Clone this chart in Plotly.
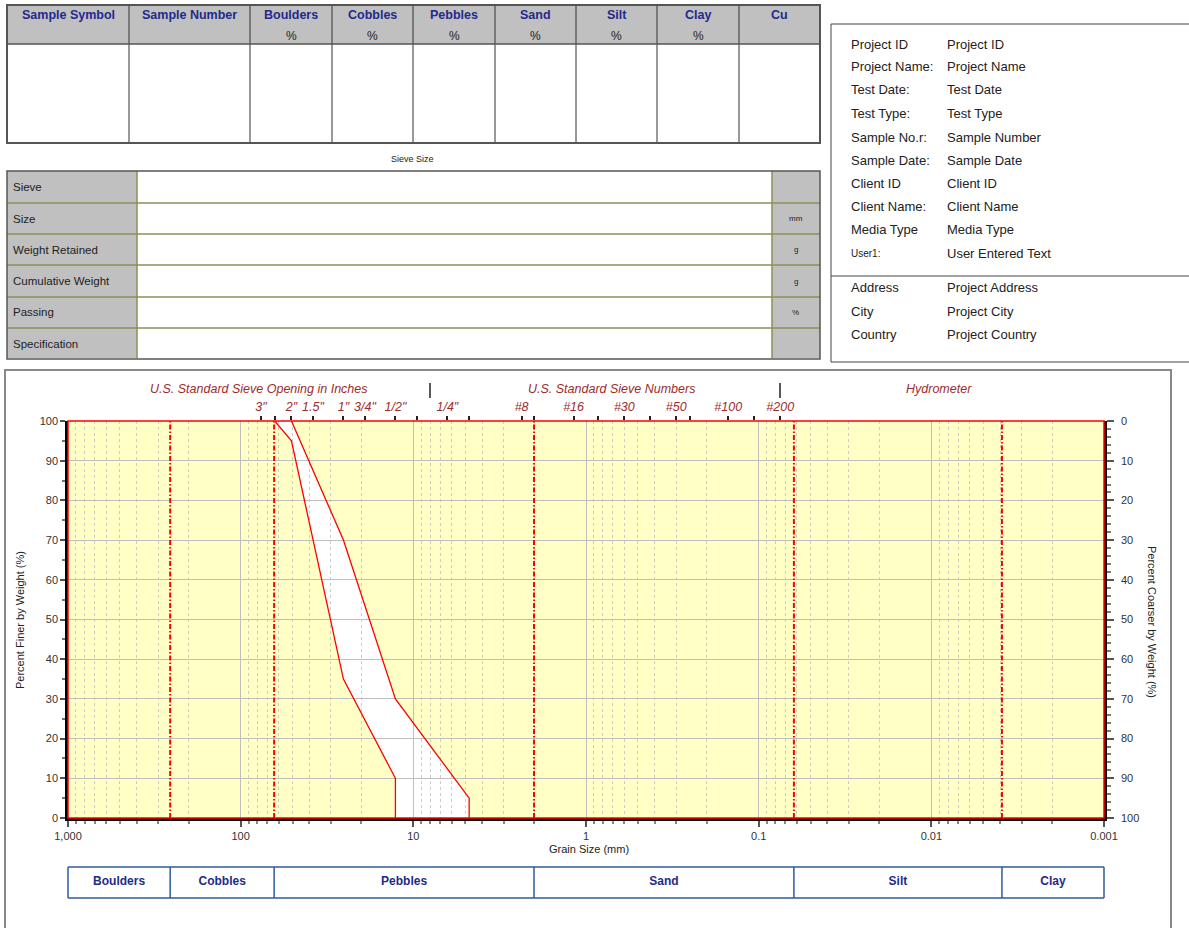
import plotly.graph_objects as go

W, H = 1189, 928
FONT = "Liberation Sans, Arial, sans-serif"
NAVY = "#1F2A8C"
DRED = "#9B2D2D"

# ---------------- data ----------------
sieve_sizes_mm = [76.2, 63.5, 50.8, 38.1, 25.4, 19.05, 12.7, 9.525, 6.35, 4.75,
                  2.36, 2.0, 1.18, 0.85, 0.6, 0.425, 0.3, 0.25, 0.15, 0.106, 0.075]
sieve_labels = ['3"', '', '2"', '1.5"', '1"', '3/4"', '1/2"', '', '1/4"', '',
                '#8', '', '#16', '', '#30', '', '#50', '', '#100', '', '#200']

lower_size = [63.5, 50.8, 25.4, 12.7, 12.7]
lower_pass = [100, 95, 35, 10, 0]
upper_size = [50.8, 25.4, 12.7, 4.75, 4.75]
upper_pass = [100, 70, 30, 5, 0]

class_names = ["Boulders", "Cobbles", "Pebbles", "Sand", "Silt", "Clay"]
class_bounds = [1000, 256, 64, 2, 0.0625, 0.0039, 0.001]

x_tickvals = [1000, 100, 10, 1, 0.1, 0.01, 0.001]
x_ticktext = ["1,000", "100", "10", "1", "0.1", "0.01", "0.001"]
minor_mult = [2, 3, 4, 5, 6, 7, 8, 9]
decades = [0.001, 0.01, 0.1, 1, 10, 100]

y_ticks = [0, 10, 20, 30, 40, 50, 60, 70, 80, 90, 100]

table_cols = ["Sample Symbol", "Sample Number", "Boulders", "Cobbles", "Pebbles",
              "Sand", "Silt", "Clay", "Cu"]
table_units = ["", "", "%", "%", "%", "%", "%", "%", ""]
sieve_rows = ["Sieve", "Size", "Weight Retained", "Cumulative Weight", "Passing", "Specification"]
sieve_units = ["", "mm", "g", "g", "%", ""]
info_labels = ["Project ID", "Project Name:", "Test Date:", "Test Type:", "Sample No.r:",
               "Sample Date:", "Client ID", "Client Name:", "Media Type", "User1:",
               "Address", "City", "Country"]
info_values = ["Project ID", "Project Name", "Test Date", "Test Type", "Sample Number",
               "Sample Date", "Client ID", "Client Name", "Media Type", "User Entered Text",
               "Project Address", "Project City", "Project Country"]

# ---------------- helpers ----------------
def fx(x):
    return x / W

def fy(y):
    return 1 - y / H

shapes = []
annots = []

def line(x0, y0, x1, y1, color="#444", width=1, layer="above"):
    shapes.append(dict(type="line", xref="paper", yref="paper",
                       x0=fx(x0), y0=fy(y0), x1=fx(x1), y1=fy(y1),
                       line=dict(color=color, width=width), layer=layer))

def rect(x0, y0, x1, y1, fill=None, color="#444", width=1, layer="above"):
    d = dict(type="rect", xref="paper", yref="paper",
             x0=fx(x0), y0=fy(y0), x1=fx(x1), y1=fy(y1), layer=layer,
             line=dict(color=color, width=width))
    if fill:
        d["fillcolor"] = fill
    shapes.append(d)

def text(x, y, s, size=12, color="#222", xanchor="center", angle=0, bold=False, italic=False):
    if bold:
        s = "<b>" + s + "</b>"
    if italic:
        s = "<i>" + s + "</i>"
    annots.append(dict(x=fx(x), y=fy(y), xref="paper", yref="paper", text=s,
                       showarrow=False, xanchor=xanchor, yanchor="middle",
                       textangle=angle, font=dict(family=FONT, size=size, color=color)))

# ---------------- top table ----------------
cols_x = [7, 129, 250, 332, 413, 495, 576, 657, 739, 820]
rect(7, 5, 820, 44, fill="#C0C0C0", color="#C0C0C0", width=0, layer="below")
for i, name in enumerate(table_cols):
    cx = (cols_x[i] + cols_x[i + 1]) / 2
    text(cx, 15, name, size=12.5, color=NAVY, bold=True)
    if table_units[i]:
        text(cx, 36, table_units[i], size=12, color="#222")
for x in cols_x[1:-1]:
    line(x, 5, x, 143, color="#333", width=1)
line(7, 44, 820, 44, color="#555", width=1.5)
rect(7, 5, 820, 143, color="#555", width=2)

# ---------------- sieve table ----------------
text(412, 159, "Sieve Size", size=9)
rect(7, 171, 137, 358, fill="#C0C0C0", color="#C0C0C0", width=0, layer="below")
rect(772, 171, 820, 358, fill="#C0C0C0", color="#C0C0C0", width=0, layer="below")
row_y = [171, 203, 234, 265, 297, 328, 359]
for yy in row_y[1:-1]:
    line(7, yy, 820, yy, color="#8E8E5A", width=1.5)
line(137, 171, 137, 358, color="#8E8E5A", width=1.5)
line(772, 171, 772, 358, color="#8E8E5A", width=1.5)
rect(7, 171, 820, 359, color="#555", width=1.5)
for i, name in enumerate(sieve_rows):
    cy = (row_y[i] + row_y[i + 1]) / 2
    text(11, cy, name, size=11.5, xanchor="left")
    if sieve_units[i]:
        text(796, cy, sieve_units[i], size=8)

# ---------------- info box ----------------
line(831, 24, 1189, 24, color="#444")
line(831, 24, 831, 362, color="#444")
line(831, 362, 1189, 362, color="#444")
line(831, 276, 1189, 276, color="#444")
info_y = [44, 67, 90, 114, 137, 160, 183, 206, 230, 253, 288, 311, 334]
for lab, val, yy in zip(info_labels, info_values, info_y):
    text(849, yy, lab, size=10 if lab == "User1:" else 13, xanchor="left")
    text(945, yy, val, size=13, xanchor="left")

# ---------------- chart frame & labels ----------------
rect(5, 370, 1171, 940, color="#888", width=2)
text(259, 389, "U.S. Standard Sieve Opening in Inches", size=12.5, color=DRED, italic=True)
text(611, 389, "U.S. Standard Sieve Numbers", size=12.5, color=DRED, italic=True)
text(939, 389, "Hydrometer", size=12.5, color=DRED, italic=True)
line(430, 383, 430, 398, color="#222", width=1.5)
line(780, 383, 780, 398, color="#222", width=1.5)
text(20, 620, "Percent Finer by Weight (%)", size=11, angle=-90)
text(1152, 622, "Percent Coarser by Weight (%)", size=11, angle=90)
text(589, 849, "Grain Size (mm)", size=11)

# plot area in pixels
PX0, PX1, PY0, PY1 = 68, 1104, 421, 818
xdom = [fx(PX0), fx(PX1)]
ydom = [fy(PY1), fy(PY0)]

# yellow plot background (below the fill subplot)
shapes.append(dict(type="rect", xref="x domain", yref="y domain", x0=0, x1=1, y0=0, y1=1,
                   fillcolor="#FFFFC6", line=dict(width=0), layer="below"))
# red plot border
shapes.append(dict(type="rect", xref="x2 domain", yref="y2 domain", x0=0, x1=1, y0=0, y1=1,
                   line=dict(color="#FF0000", width=1.5), layer="above"))

fig = go.Figure()

# white envelope fill (subplot xy, below grid of x2y2)
fig.add_trace(go.Scatter(x=lower_size + upper_size[::-1], y=lower_pass + upper_pass[::-1],
                         mode="lines", fill="toself", fillcolor="white",
                         line=dict(width=0, color="white"), hoverinfo="skip",
                         showlegend=False, xaxis="x", yaxis="y"))

# class boundary dashed lines
bx, by = [], []
for b in class_bounds[1:-1]:
    bx += [b, b, None]
    by += [0, 100, None]
fig.add_trace(go.Scatter(x=bx, y=by, mode="lines",
                         line=dict(color="#FF0000", width=2, dash="5px,2px,1.5px,2px"),
                         showlegend=False, xaxis="x2", yaxis="y2", hoverinfo="skip"))

# envelope lines
fig.add_trace(go.Scatter(x=lower_size, y=lower_pass, mode="lines",
                         line=dict(color="#FF0000", width=1.3), showlegend=False,
                         xaxis="x2", yaxis="y2"))
fig.add_trace(go.Scatter(x=upper_size, y=upper_pass, mode="lines",
                         line=dict(color="#FF0000", width=1.3), showlegend=False,
                         xaxis="x2", yaxis="y2"))

# invisible companions so the top sieve axis and right "coarser" axis are drawn
fig.add_trace(go.Scatter(x=upper_size, y=upper_pass, mode="markers",
                         marker=dict(opacity=0, size=1), hoverinfo="skip",
                         showlegend=False, xaxis="x3", yaxis="y2"))
fig.add_trace(go.Scatter(x=upper_size, y=[100 - p for p in upper_pass], mode="markers",
                         marker=dict(opacity=0, size=1), hoverinfo="skip",
                         showlegend=False, xaxis="x2", yaxis="y3"))

# classification bar (own subplot sharing the log scale)
cx_, cy_ = [], []
for b in class_bounds:
    cx_ += [b, b, None]
    cy_ += [0, 1, None]
cx_ += [class_bounds[0], class_bounds[-1], None, class_bounds[0], class_bounds[-1]]
cy_ += [0, 0, None, 1, 1]
fig.add_trace(go.Scatter(x=cx_, y=cy_, mode="lines", line=dict(color="#2E5C9A", width=1.5),
                         showlegend=False, xaxis="x4", yaxis="y4", hoverinfo="skip"))
mids = [(class_bounds[i] * class_bounds[i + 1]) ** 0.5 for i in range(len(class_names))]
fig.add_trace(go.Scatter(x=mids, y=[0.5] * len(mids), mode="text",
                         text=["<b>" + n + "</b>" for n in class_names],
                         textfont=dict(family=FONT, size=12, color=NAVY),
                         showlegend=False, xaxis="x4", yaxis="y4", hoverinfo="skip"))

minor_vals = [m * d for d in decades for m in minor_mult]

ext = 0.02
ext_px = ext * (PX1 - PX0) / 6
bar_pad = 0.1 * 31

fig.update_layout(
    template="none",
    width=W, height=H, autosize=False,
    margin=dict(l=0, r=0, t=0, b=0, pad=0),
    paper_bgcolor="white",
    plot_bgcolor="rgba(0,0,0,0)",
    showlegend=False,
    font=dict(family=FONT, size=11, color="#333"),
    shapes=shapes,
    annotations=annots,
    xaxis=dict(type="log", range=[3, -3], domain=xdom, anchor="y", visible=False, automargin=False),
    yaxis=dict(range=[0, 100], domain=ydom, anchor="x", visible=False, automargin=False),
    xaxis2=dict(type="log", range=[3, -3], domain=xdom, anchor="y2", automargin=False,
                tickmode="array", tickvals=x_tickvals, ticktext=x_ticktext,
                ticks="outside", ticklen=6, tickwidth=1.5, tickcolor="#555",
                showline=True, linecolor="black", linewidth=2.5,
                showgrid=True, gridcolor="#BEBEBE", gridwidth=1, zeroline=False,
                minor=dict(tickvals=minor_vals, ticks="outside", ticklen=3, tickcolor="#888",
                           showgrid=True, gridcolor="#CCCCCC", griddash="dot", gridwidth=1),
                tickfont=dict(family=FONT, size=11, color="#333")),
    yaxis2=dict(range=[0, 100], domain=ydom, anchor="x2", automargin=False,
                tickmode="array", tickvals=y_ticks,
                ticks="outside", ticklen=5, tickwidth=1.5, tickcolor="#555",
                minor=dict(dtick=5, ticks="outside", ticklen=3, tickcolor="#777", showgrid=False),
                showline=True, linecolor="black", linewidth=2.5,
                showgrid=True, gridcolor="#BEBEBE", gridwidth=1, zeroline=False,
                tickfont=dict(family=FONT, size=11, color="#333")),
    xaxis3=dict(type="log", range=[3, -3], overlaying="x2", side="top", anchor="y2", automargin=False,
                tickmode="array", tickvals=sieve_sizes_mm, ticktext=sieve_labels,
                ticks="outside", ticklen=4, tickwidth=1.5, tickcolor="#222",
                showgrid=False, showline=False, zeroline=False,
                tickfont=dict(family=FONT, size=12.5, color=DRED, style="italic")),
    yaxis3=dict(range=[100, 0], overlaying="y2", side="right", anchor="x2", automargin=False,
                tickmode="array", tickvals=y_ticks, ticklabelstandoff=5,
                ticks="outside", ticklen=7, tickwidth=1.5, tickcolor="#555",
                minor=dict(dtick=2, ticks="outside", ticklen=4, tickcolor="#777", showgrid=False),
                showline=True, linecolor="black", linewidth=2.5,
                showgrid=False, zeroline=False,
                tickfont=dict(family=FONT, size=11, color="#333")),
    xaxis4=dict(type="log", range=[3 + ext, -3 - ext], automargin=False,
                domain=[fx(PX0 - ext_px), fx(PX1 + ext_px)], anchor="y4", visible=False),
    yaxis4=dict(range=[-0.1, 1.1], domain=[fy(898 + bar_pad), fy(867 - bar_pad)], automargin=False,
                anchor="x4", visible=False),
)

fig.write_html("out.html", config={"displayModeBar": False},
               post_script="document.body.style.margin='0px';")
